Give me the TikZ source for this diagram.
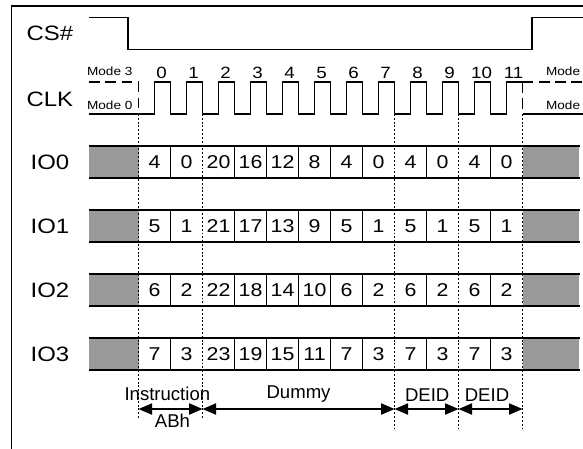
\documentclass[tikz,border=0pt]{standalone}
\usepackage{fontspec}
\setmainfont{Liberation Sans}[FakeStretch=1.15]
\newfontfamily\annfont{Liberation Sans}
\usetikzlibrary{arrows.meta}

\begin{document}
\begin{tikzpicture}[
  sig/.style={line width=1.2pt},
  modedash/.style={line width=1.2pt, dash pattern=on 9.5pt off 5pt},
  cellline/.style={line width=1.1pt},
  shade/.style={fill=black!40},
  lbl/.style={font=\fontsize{18.5}{20}\selectfont},
  num/.style={font=\fontsize{16.5}{18}\selectfont, inner sep=0pt},
  clknum/.style={font=\fontsize{14.5}{16}\selectfont, inner sep=0pt},
  modelbl/.style={font=\fontsize{10.5}{12}\selectfont, inner sep=0pt},
  ann/.style={font=\annfont\fontsize{16.5}{18}\selectfont, inner sep=0pt},
  phase/.style={line width=1pt, dash pattern=on 1.7pt off 1.7pt},
  dim/.style={{Triangle[length=12pt,width=10pt]}-{Triangle[length=12pt,width=10pt]}, line width=1.1pt}
]
\useasboundingbox (-4.33,0.0625) rectangle (13.89,-13.94);
\clip (-4.33,0.0625) rectangle (13.89,-13.94);
% frame
\draw[line width=1.1pt] (14,-0.125) -- (-3.98,-0.125) -- (-3.98,-14);
% chip select
\node[lbl] (cs) at (-2.77,-0.97) {CS\#};
\draw[sig] (-1.55,-0.48) -- (-0.33,-0.48) -- (-0.33,-1.48) -- (12.3,-1.48) -- (12.3,-0.48) -- (14,-0.48);
% clock
\node[lbl] (clk) at (-2.77,-3.03) {CLK};
\node[modelbl] (m3l) at (-0.9,-2.16) {Mode 3};
\node[modelbl] (m0l) at (-0.9,-3.22) {Mode 0};
\node[modelbl, anchor=west] (m3r) at (12.73,-2.16) {Mode 3};
\node[modelbl, anchor=west] (m0r) at (12.73,-3.22) {Mode 0};
\draw[modedash] (-1.55,-2.5) -- (0,-2.5) -- (0,-3.5);
\draw[sig] (-1.55,-3.5) foreach \k in {0,...,10} { -- (\k+0.5,-3.5) -- (\k+0.5,-2.5) -- (\k+1,-2.5) -- (\k+1,-3.5) }
  -- (11.5,-3.5) -- (11.5,-2.5) -- (12,-2.5);
\draw[modedash] (12,-2.5) -- (12,-3.5);
\draw[modedash] (12,-2.5) -- (14,-2.5);
\draw[sig] (12,-3.5) -- (14,-3.5);
\foreach \k in {0,...,11} \node[clknum] (n\k) at (\k+0.72,-2.22) {\k};
% data lines
\foreach \r/\vals in {0/{4,0,20,16,12,8,4,0,4,0,4,0},
                      1/{5,1,21,17,13,9,5,1,5,1,5,1},
                      2/{6,2,22,18,14,10,6,2,6,2,6,2},
                      3/{7,3,23,19,15,11,7,3,7,3,7,3}} {
  \node[lbl] (io\r) at (-2.77,-5-2*\r) {IO\r};
  \fill[shade] (-1.55,-4.5-2*\r) rectangle (0,-5.5-2*\r);
  \fill[shade] (12,-4.5-2*\r) rectangle (13.78,-5.5-2*\r);
  \draw[cellline] (-1.55,-4.5-2*\r) -- (13.8,-4.5-2*\r) (-1.55,-5.5-2*\r) -- (13.8,-5.5-2*\r);
  \foreach \k in {1,3,4,5,6,7,9,11} \draw[cellline] (\k,-4.5-2*\r) -- (\k,-5.5-2*\r);
  \foreach \v [count=\k from 0] in \vals \node[num] (c\r-\k) at (\k+0.5,-5-2*\r) {\v};
}
% phase boundaries
\draw[phase] (0,-3.5) -- (0,-13.03);
\draw[phase] (2,-3.5) -- (2,-13.03);
\draw[phase] (8,-3.5) -- (8,-13.3);
\draw[phase] (10,-3.5) -- (10,-13.3);
\draw[phase] (12,-3.5) -- (12,-13.3);
% phase arrows
\coordinate (b0) at (0,-12.72);
\coordinate (b2) at (2,-12.72);
\coordinate (b8) at (8,-12.72);
\coordinate (b10) at (10,-12.72);
\coordinate (b12) at (12,-12.72);
\draw[dim] (b0) -- (b2);
\draw[dim] (b2) -- (b8);
\draw[dim] (b8) -- (b10);
\draw[dim] (b10) -- (b12);
\node[ann] (instr) at (0.9,-12.25) {Instruction};
\node[ann] (abh) at (1.06,-13.1) {ABh};
\node[ann] (dummy) at (5,-12.25) {Dummy};
\node[ann] (deid1) at (9.02,-12.3) {DEID};
\node[ann] (deid2) at (10.89,-12.3) {DEID};
\end{tikzpicture}
\end{document}
